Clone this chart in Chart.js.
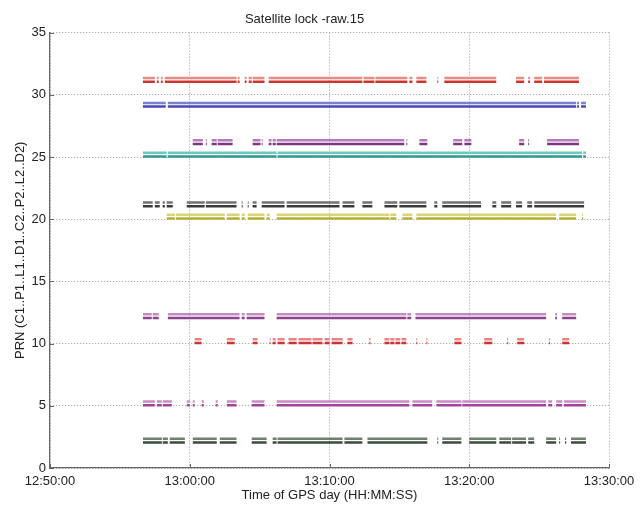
<!DOCTYPE html>
<html>
<head>
<meta charset="utf-8">
<script src="https://cdn.jsdelivr.net/npm/chart.js@4/dist/chart.umd.min.js"></script>
<style>
  html, body { margin: 0; padding: 0; background: #fff; }
  #wrap { width: 643px; height: 505px; }
</style>
</head>
<body>
<div id="wrap"><canvas id="lock"></canvas></div>
<script>
// axis ticks
const xTickLabels = ["12:50:00", "13:00:00", "13:10:00", "13:20:00", "13:30:00"];
const yTickValues = [0, 5, 10, 15, 20, 25, 30, 35];

// satellites seen, top to bottom
const prnList = [31, 29, 26, 25, 21, 20, 12, 10, 5, 2];

// lock intervals per satellite [start, end]
const prn31 = [["12:56:39","12:57:30"],["12:57:39","12:57:47"],["12:57:56","12:58:04"],["12:58:13","13:03:21"],["13:03:26","13:03:34"],["13:03:56","13:04:04"],["13:04:13","13:04:26"],["13:04:30","13:05:21"],["13:05:39","13:12:21"],["13:12:26","13:13:13"],["13:13:17","13:15:34"],["13:15:43","13:15:56"],["13:16:13","13:16:56"],["13:17:43","13:17:47"],["13:18:13","13:21:56"],["13:23:21","13:23:56"],["13:24:13","13:24:21"],["13:24:39","13:25:13"],["13:25:21","13:27:51"]];
const prn29 = [["12:56:39","12:58:17"],["12:58:26","13:27:39"],["13:27:43","13:27:51"],["13:28:00","13:28:21"]];
const prn26 = [["13:00:13","13:00:56"],["13:01:09","13:01:13"],["13:01:34","13:01:56"],["13:02:00","13:03:04"],["13:04:30","13:05:04"],["13:05:09","13:05:13"],["13:05:39","13:05:51"],["13:05:56","13:06:09"],["13:06:13","13:15:21"],["13:15:30","13:15:34"],["13:16:26","13:17:00"],["13:18:51","13:19:30"],["13:19:39","13:20:09"],["13:23:34","13:23:56"],["13:24:13","13:24:17"],["13:25:34","13:27:51"]];
const prn25 = [["12:56:39","12:58:21"],["12:58:26","13:06:13"],["13:06:17","13:28:04"],["13:28:09","13:28:21"]];
const prn21 = [["12:56:39","12:57:21"],["12:57:30","12:57:51"],["12:58:04","12:58:13"],["12:58:21","12:58:47"],["12:59:47","13:01:04"],["13:01:09","13:03:21"],["13:03:43","13:03:47"],["13:04:09","13:04:13"],["13:04:30","13:04:47"],["13:05:09","13:06:47"],["13:06:56","13:10:43"],["13:10:56","13:11:47"],["13:12:21","13:13:04"],["13:13:56","13:14:51"],["13:15:00","13:16:56"],["13:17:30","13:17:43"],["13:18:04","13:20:51"],["13:21:39","13:21:56"],["13:22:17","13:23:00"],["13:23:21","13:23:47"],["13:24:09","13:24:30"],["13:24:39","13:28:13"]];
const prn20 = [["12:58:21","12:58:56"],["12:59:00","13:02:30"],["13:02:39","13:03:34"],["13:03:43","13:03:56"],["13:04:09","13:05:21"],["13:05:30","13:05:43"],["13:06:13","13:14:17"],["13:14:21","13:14:47"],["13:15:13","13:15:56"],["13:16:13","13:26:13"],["13:26:26","13:27:39"],["13:28:04","13:28:09"]];
const prn12 = [["12:56:39","12:57:17"],["12:57:21","12:57:47"],["12:58:26","13:03:34"],["13:03:43","13:03:56"],["13:04:04","13:05:21"],["13:06:13","13:15:30"],["13:15:34","13:15:51"],["13:16:09","13:25:30"],["13:26:09","13:26:17"],["13:26:39","13:27:39"]];
const prn10 = [["13:00:21","13:00:51"],["13:02:39","13:03:13"],["13:04:30","13:04:51"],["13:05:43","13:05:47"],["13:05:56","13:06:09"],["13:06:17","13:06:47"],["13:07:04","13:07:39"],["13:07:47","13:08:43"],["13:08:47","13:09:30"],["13:09:39","13:10:00"],["13:10:09","13:10:56"],["13:11:17","13:11:39"],["13:12:51","13:12:56"],["13:13:56","13:14:17"],["13:14:21","13:14:39"],["13:14:43","13:15:04"],["13:15:09","13:15:30"],["13:16:13","13:16:17"],["13:16:56","13:17:00"],["13:18:56","13:19:26"],["13:21:04","13:21:39"],["13:22:43","13:22:47"],["13:23:26","13:23:56"],["13:25:43","13:25:47"],["13:26:39","13:27:09"],["13:27:17","13:27:21"]];
const prn5 = [["12:56:39","12:57:30"],["12:57:39","12:58:00"],["12:58:04","12:58:43"],["12:59:47","13:00:00"],["13:00:13","13:00:21"],["13:00:51","13:01:00"],["13:01:51","13:02:00"],["13:02:39","13:03:21"],["13:04:26","13:05:21"],["13:06:13","13:15:43"],["13:15:56","13:17:21"],["13:17:39","13:19:26"],["13:19:30","13:25:30"],["13:25:39","13:25:56"],["13:26:13","13:26:39"],["13:26:47","13:28:21"]];
const prn2 = [["12:56:39","12:58:00"],["12:58:04","12:58:26"],["12:58:34","12:59:39"],["13:00:13","13:01:56"],["13:02:09","13:03:21"],["13:04:26","13:05:30"],["13:05:56","13:06:13"],["13:06:17","13:10:56"],["13:11:04","13:12:21"],["13:12:43","13:17:00"],["13:17:43","13:17:47"],["13:18:04","13:19:26"],["13:20:00","13:21:56"],["13:22:09","13:23:00"],["13:23:04","13:24:04"],["13:24:13","13:24:39"],["13:25:30","13:26:13"],["13:26:26","13:26:30"],["13:26:51","13:26:56"],["13:27:17","13:28:21"]];

const lockTable = [prn31, prn29, prn26, prn25, prn21, prn20, prn12, prn10, prn5, prn2];

// two line groups per satellite (L1 obs, L2 obs), slightly above the PRN
const obsOffsets = [0.05, 0.35];
const darkColors  = ["#c9362e", "#4949b2", "#7c3784", "#2e9a94", "#3a3a3a", "#b5b035", "#8c448d", "#cc3333", "#a2449d", "#3d4b3d"];
const lightColors = ["#ea8a80", "#7d7dd4", "#b47bb8", "#70c7c1", "#737373", "#d8d478", "#c28cc2", "#e78484", "#ca8bc6", "#717f71"];

function toSec(hms) {
  const p = hms.split(":").map(Number);
  return p[0] * 3600 + p[1] * 60 + p[2];
}
function fmt(sec) {
  const h = Math.floor(sec / 3600), m = Math.floor((sec % 3600) / 60), s = sec % 60;
  return [h, m, s].map(v => String(v).padStart(2, "0")).join(":");
}

const datasets = [];
prnList.forEach((prn, i) => {
  obsOffsets.forEach((off, k) => {
    const pts = [];
    lockTable[i].forEach(([a, b]) => {
      pts.push({ x: toSec(a), y: prn + off });
      pts.push({ x: toSec(b), y: prn + off });
      pts.push({ x: toSec(b), y: null });
    });
    datasets.push({
      label: "PRN " + prn,
      data: pts,
      borderColor: k === 0 ? darkColors[i] : lightColors[i],
      borderWidth: 2.5,
      borderCapStyle: "butt",
      pointRadius: 0,
      spanGaps: false,
      tension: 0,
    });
  });
});

// short inward tick marks like the original plot
const innerTicks = {
  id: "innerTicks",
  afterDraw(chart) {
    const { ctx, chartArea: a, scales: { x, y } } = chart;
    ctx.save();
    ctx.strokeStyle = "#666";
    ctx.lineWidth = 1;
    ctx.beginPath();
    x.ticks.forEach(t => {
      const px = Math.round(x.getPixelForValue(t.value)) + 0.5;
      ctx.moveTo(px, a.bottom); ctx.lineTo(px, a.bottom - 4);
    });
    y.ticks.forEach(t => {
      const py = Math.round(y.getPixelForValue(t.value)) + 0.5;
      ctx.moveTo(a.left, py); ctx.lineTo(a.left + 4, py);
    });
    ctx.stroke();
    ctx.restore();
  },
};

const FONT = "'Liberation Sans', Arial, sans-serif";

new Chart(document.getElementById("lock"), {
  type: "line",
  data: { datasets },
  plugins: [innerTicks],
  options: {
    responsive: true,
    maintainAspectRatio: false,
    animation: false,
    layout: { padding: { top: 0, right: 34, bottom: 0, left: 0 } },
    plugins: {
      legend: { display: false },
      tooltip: { enabled: false },
      title: {
        display: true,
        text: "Satellite lock -raw.15",
        color: "#222",
        font: { family: FONT, size: 13, weight: "normal" },
        padding: { top: 12, bottom: 5 },
      },
    },
    scales: {
      x: {
        type: "linear",
        min: toSec(xTickLabels[0]),
        max: toSec(xTickLabels[xTickLabels.length - 1]),
        afterBuildTicks: (axis) => {
          axis.ticks = xTickLabels.map(t => ({ value: toSec(t) }));
        },
        ticks: {
          callback: (v) => fmt(v),
          color: "#222",
          font: { family: FONT, size: 13 },
          padding: 6,
          maxRotation: 0,
        },
        grid: { color: "#9a9a9a", drawTicks: false },
        border: { display: true, color: "#666", width: 1.2, dash: [1, 2] },
        title: {
          display: true,
          text: "Time of GPS day (HH:MM:SS)",
          color: "#222",
          font: { family: FONT, size: 13 },
          padding: { top: 0, bottom: 2 },
        },
        afterFit: (axis) => { axis.height = 37; },
      },
      y: {
        min: yTickValues[0],
        max: yTickValues[yTickValues.length - 1],
        afterBuildTicks: (axis) => {
          axis.ticks = yTickValues.map(v => ({ value: v }));
        },
        ticks: {
          color: "#222",
          font: { family: FONT, size: 13 },
          padding: 4,
        },
        grid: { color: "#9a9a9a", drawTicks: false },
        border: { display: true, color: "#666", width: 1.2, dash: [1, 2] },
        title: {
          display: true,
          text: "PRN (C1..P1..L1..D1..C2..P2..L2..D2)",
          color: "#222",
          font: { family: FONT, size: 13 },
          padding: { top: 13, bottom: 0 },
        },
        afterFit: (axis) => { axis.width = 50; },
      },
    },
  },
});
</script>
</body>
</html>
